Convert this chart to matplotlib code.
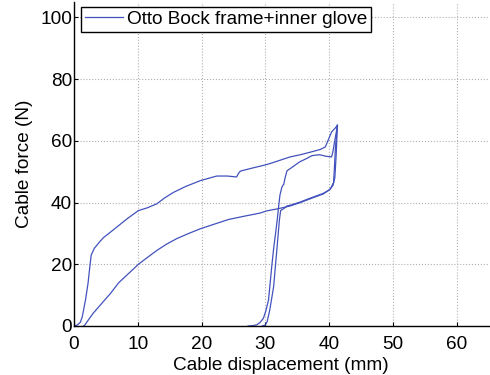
import matplotlib
matplotlib.use("Agg")
import matplotlib.pyplot as plt

plt.rcParams['font.family'] = ['Liberation Sans', 'DejaVu Sans']

# Cycle 1: loading from rest up to the peak
load1_x = [0, 0.5, 1.0, 1.3, 1.8, 2.2, 2.5, 2.7, 3.2, 4.0, 4.6, 6.2, 8.3, 10.1,
           11.5, 13.0, 14.2, 15.6, 17.5, 19.8, 21.0, 22.4, 24.0, 25.5, 25.8,
           26.1, 28.0, 30.2, 32.0, 33.9, 35.5, 37.0, 38.6, 39.4, 40.4, 40.9, 41.3]
load1_y = [0, 0.3, 1.2, 3.0, 8.4, 13.8, 19.5, 23.0, 25.2, 27.2, 28.6, 31.2, 34.7,
           37.4, 38.3, 39.6, 41.5, 43.3, 45.2, 47.1, 47.8, 48.6, 48.6, 48.3,
           49.5, 50.2, 51.2, 52.3, 53.5, 54.8, 55.5, 56.3, 57.2, 58.0, 62.9, 64.0, 65.0]

# Cycle 1: unloading back to zero force
unload1_x = [41.3, 41.0, 40.8, 40.7, 40.2, 39.1, 37.0, 35.5, 33.9, 32.0, 30.2,
             29.2, 26.5, 24.2, 22.0, 19.8, 18.0, 16.1, 14.5, 13.0, 11.5, 10.1,
             8.3, 7.0, 5.7, 4.3, 3.0, 2.2, 1.7, 1.5]
unload1_y = [65.0, 58.0, 50.0, 46.5, 44.4, 42.8, 41.2, 40.0, 38.9, 38.0, 37.3,
             36.6, 35.5, 34.5, 33.0, 31.5, 30.0, 28.3, 26.5, 24.5, 22.2, 20.0,
             16.5, 14.0, 10.5, 7.2, 4.1, 1.8, 0.3, 0.0]

# Cycle 2: loading after slack take-up
load2_x = [27.3, 28.0, 28.7, 29.2, 29.7, 30.1, 30.5, 31.0, 31.3, 31.6, 31.9,
           32.1, 32.3, 32.6, 32.9, 33.1, 33.4, 33.9, 35.4, 36.5, 37.3, 38.5,
           39.5, 40.4, 40.6, 40.9, 41.1, 41.3]
load2_y = [0.0, 0.1, 0.4, 1.2, 2.5, 5.0, 8.4, 19.1, 25.0, 29.9, 35.0, 39.0,
           42.5, 45.0, 46.0, 48.0, 50.3, 51.0, 53.2, 54.3, 55.2, 55.5, 55.0,
           54.8, 56.5, 60.2, 62.5, 65.0]

# Cycle 2: unloading
unload2_x = [41.3, 41.1, 40.9, 40.6, 40.0, 39.0, 37.0, 35.5, 34.0, 33.4, 33.0,
             32.4, 32.2, 31.8, 31.3, 30.7, 30.3, 30.0, 29.5]
unload2_y = [65.0, 55.0, 48.0, 45.5, 44.0, 42.9, 41.4, 40.2, 39.2, 38.9, 38.2,
             37.4, 34.2, 24.5, 12.7, 5.2, 1.5, 0.3, 0.0]

series_label = "Otto Bock frame+inner glove"
x_ticks = [0, 10, 20, 30, 40, 50, 60]
y_ticks = [0, 20, 40, 60, 80, 100]

line_color = "#4252bd"
fs = 13.7

fig = plt.figure(figsize=(4.9, 3.75), dpi=100)
ax = fig.add_axes([0.151, 0.1307, 0.846, 0.864])

ax.plot(load1_x, load1_y, color=line_color, lw=0.9, label=series_label)
for xs, ys in [(unload1_x, unload1_y), (load2_x, load2_y), (unload2_x, unload2_y)]:
    ax.plot(xs, ys, color=line_color, lw=0.9)

ax.set_xlim(0, 65)
ax.set_ylim(0, 105)
ax.set_xticks(x_ticks)
ax.set_yticks(y_ticks)

ax.grid(True, linestyle=':', color='#b0b0b0', linewidth=0.8)
ax.set_axisbelow(True)

for side in ['top', 'right']:
    ax.spines[side].set_visible(False)
for side in ['left', 'bottom']:
    ax.spines[side].set_linewidth(1.0)
    ax.spines[side].set_color('black')

ax.tick_params(axis='both', direction='in', length=3.2, width=0.8,
               labelsize=fs, colors='black')
ax.tick_params(axis='x', pad=7.5)
ax.tick_params(axis='y', pad=1.5)

ax.set_xlabel("Cable displacement (mm)", fontsize=fs, labelpad=2.5)
ax.set_ylabel("Cable force (N)", fontsize=fs, labelpad=5)

leg = ax.legend(loc='upper left', bbox_to_anchor=(0.0169, 0.985),
                borderaxespad=0, fontsize=fs, fancybox=False, framealpha=1,
                edgecolor='black', handlelength=2.0, handletextpad=0.2,
                borderpad=0.2)
leg.get_frame().set_linewidth(1.0)

fig.savefig("out.png", dpi=100)
